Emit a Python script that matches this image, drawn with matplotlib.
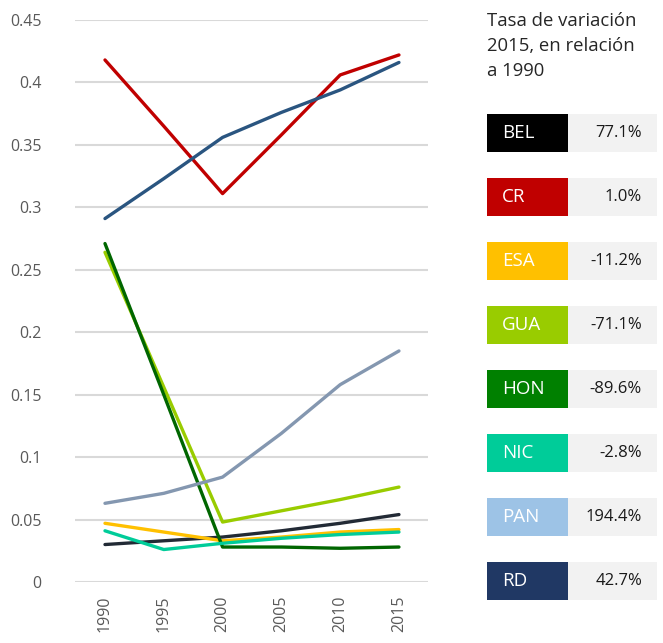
import matplotlib
matplotlib.use("Agg")
import matplotlib.pyplot as plt
from matplotlib.patches import Rectangle

plt.rcParams['font.family'] = ['Open Sans', 'DejaVu Sans']

years = [1990, 1995, 2000, 2005, 2010, 2015]
countries = ["BEL", "CR", "ESA", "GUA", "HON", "NIC", "PAN", "RD"]
bel = [0.030, 0.033, 0.036, 0.041, 0.047, 0.054]
cr = [0.418, 0.365, 0.311, 0.358, 0.406, 0.422]
esa = [0.047, 0.040, 0.033, 0.036, 0.040, 0.042]
gua = [0.264, 0.156, 0.048, 0.057, 0.066, 0.076]
hon = [0.271, 0.150, 0.028, 0.028, 0.027, 0.028]
nic = [0.041, 0.026, 0.031, 0.035, 0.038, 0.040]
pan = [0.063, 0.071, 0.084, 0.119, 0.158, 0.185]
rd = [0.291, 0.323, 0.356, 0.376, 0.394, 0.416]
series = [bel, cr, esa, gua, hon, nic, pan, rd]
changes = ["77.1%", "1.0%", "-11.2%", "-71.1%", "-89.6%", "-2.8%", "194.4%", "42.7%"]
yticks = [0, 0.05, 0.1, 0.15, 0.2, 0.25, 0.3, 0.35, 0.4, 0.45]
ytick_labels = ["0", "0.05", "0.1", "0.15", "0.2", "0.25", "0.3", "0.35", "0.4", "0.45"]
title = "Tasa de variación\n2015, en relación\na 1990"

line_colors = ["#222A35", "#C00000", "#FFC000", "#99CC00", "#006600", "#00CC99", "#8497B0", "#2A5580"]
box_colors = ["#000000", "#C00000", "#FFC000", "#99CC00", "#008000", "#00CC99", "#9DC3E6", "#203864"]

W, H = 663, 643
fig = plt.figure(figsize=(W / 100, H / 100), dpi=100)

def fx(px):
    return px / W

def fy(py):
    return 1 - py / H

ax = fig.add_axes([fx(75), fy(582), fx(428) - fx(75), fy(20) - fy(582)])
for vals, c in zip(series, line_colors):
    ax.plot(years, vals, color=c, lw=2.4, solid_capstyle='round', zorder=3)

ax.set_ylim(0, 0.45)
ax.set_xlim(1987.45, 2017.47)
ax.set_yticks(yticks)
ax.set_yticklabels(ytick_labels)
ax.set_xticks(years)
ax.set_xticklabels([str(y) for y in years], rotation=90)
ax.grid(axis='y', color='#D9D9D9', lw=1.5)
ax.set_axisbelow(True)
for s in ax.spines.values():
    s.set_visible(False)
ax.tick_params(axis='both', length=0, labelsize=11.5, colors='#595959')
ax.tick_params(axis='y', pad=24)
ax.tick_params(axis='x', pad=10)

fig.text(fx(487), fy(12), title, ha='left', va='top', fontsize=13.3, color='#262626', linespacing=1.5)

for i, (name, val) in enumerate(zip(countries, changes)):
    top = 114 + 64 * i
    h = 38
    fig.patches.append(Rectangle((fx(487), fy(top + h)), fx(568) - fx(487), fy(top) - fy(top + h),
                                 transform=fig.transFigure, facecolor=box_colors[i], edgecolor='none'))
    fig.patches.append(Rectangle((fx(568), fy(top + h)), fx(657) - fx(568), fy(top) - fy(top + h),
                                 transform=fig.transFigure, facecolor='#F2F2F2', edgecolor='none'))
    fig.text(fx(502), fy(top + h / 2), name, ha='left', va='center', fontsize=13.5, color='white')
    fig.text(fx(642), fy(top + h / 2), val, ha='right', va='center', fontsize=12, color='#1a1a1a')

fig.savefig("out.png", dpi=100)
